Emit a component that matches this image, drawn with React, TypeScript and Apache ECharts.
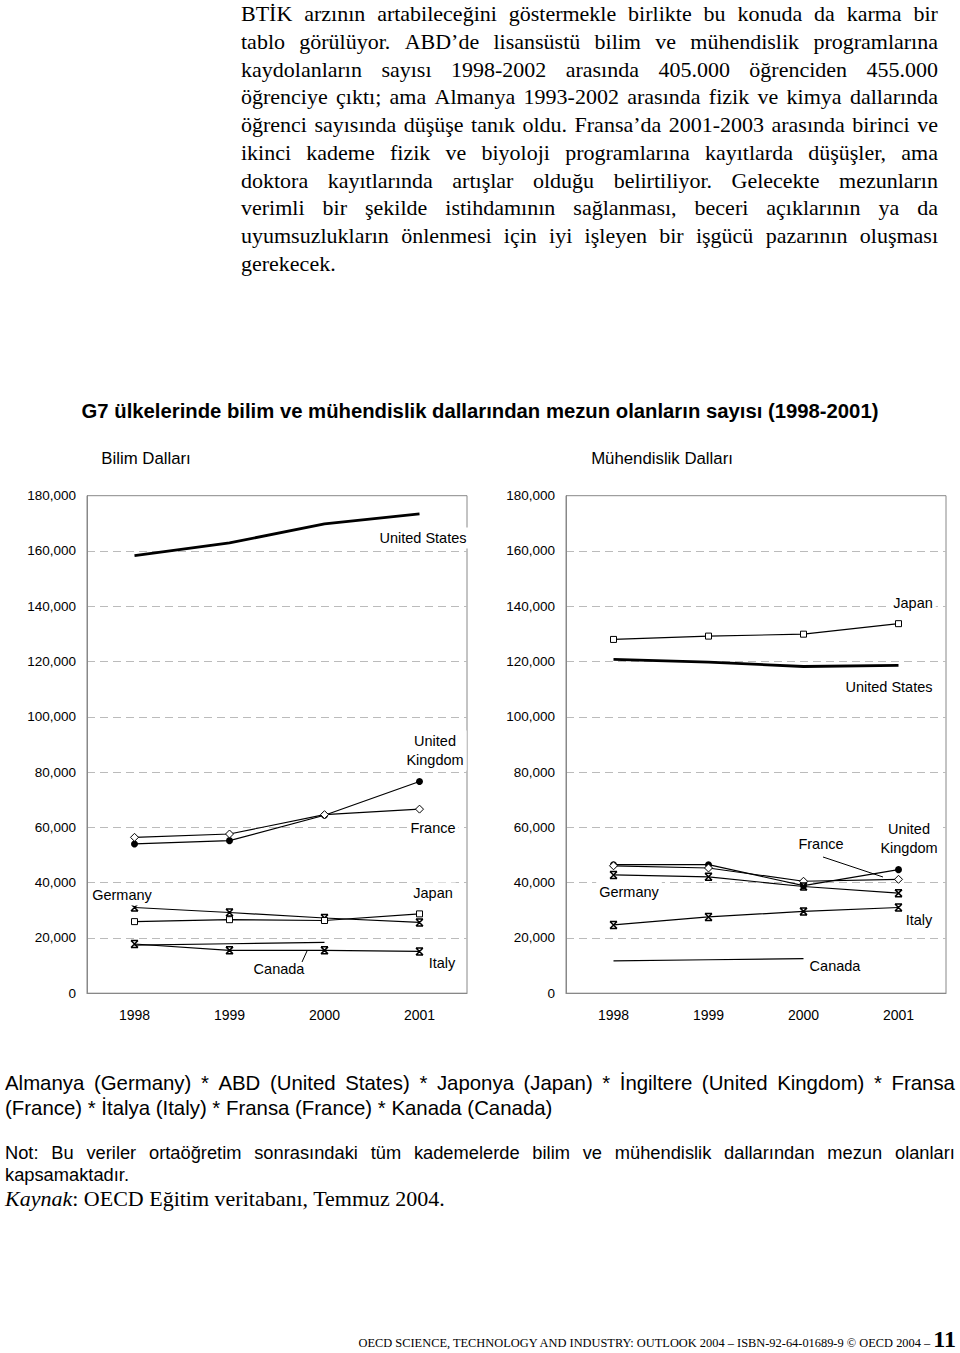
import React, { useEffect, useRef } from 'react';
import * as echarts from 'echarts';

// ---------- data ----------
const years = ['1998', '1999', '2000', '2001'];
const yMin = 0;
const yMax = 180000;
const yStep = 20000;

// Bilim Dalları (science)
const sciUS = [158300, 162900, 169800, 173400];
const sciUK = [54000, 55200, 64400, 76600];
const sciFrance = [56400, 57600, 64600, 66600];
const sciGermany = [31000, 29200, 27200, 25600];
const sciJapan = [25900, 26600, 26300, 28700];
const sciItaly = [17800, 15500, 15500, 15100];
const sciCanada = [17400, 17900, 18400, null];

// Mühendislik Dalları (engineering)
const engJapan = [128000, 129200, 129900, 133700];
const engUS = [120800, 119800, 118200, 118600];
const engUK = [46500, 46500, 38900, 44700];
const engFrance = [46100, 45300, 40500, 41200];
const engGermany = [42800, 42100, 38600, 36200];
const engItaly = [24700, 27600, 29600, 31000];
const engCanada = [11700, 12100, 12500, null];

const chartTitle = 'G7 ülkelerinde bilim ve mühendislik dallarından mezun olanların sayısı (1998-2001)';
const panelTitles = ['Bilim Dalları', 'Mühendislik Dalları'];

const paragraphLines = [
  'BTİK arzının artabileceğini göstermekle birlikte bu konuda da karma bir',
  'tablo görülüyor. ABD’de lisansüstü bilim ve mühendislik programlarına',
  'kaydolanların sayısı 1998-2002 arasında 405.000 öğrenciden 455.000',
  'öğrenciye çıktı; ama Almanya 1993-2002 arasında fizik ve kimya dallarında',
  'öğrenci sayısında düşüşe tanık oldu. Fransa’da 2001-2003 arasında birinci ve',
  'ikinci kademe fizik ve biyoloji programlarına kayıtlarda düşüşler, ama',
  'doktora kayıtlarında artışlar olduğu belirtiliyor. Gelecekte mezunların',
  'verimli bir şekilde istihdamının sağlanması, beceri açıklarının ya da',
  'uyumsuzlukların önlenmesi için iyi işleyen bir işgücü pazarının oluşması',
  'gerekecek.',
];

const legendLines = [
  'Almanya (Germany) * ABD (United States) * Japonya (Japan) * İngiltere (United Kingdom) * Fransa',
  '(France) * İtalya (Italy) * Fransa (France) * Kanada (Canada)',
];

const noteLines = [
  'Not: Bu veriler ortaöğretim sonrasındaki tüm kademelerde bilim ve mühendislik dallarından mezun olanları',
  'kapsamaktadır.',
];

const footerText = 'OECD SCIENCE, TECHNOLOGY AND INDUSTRY: OUTLOOK 2004 – ISBN-92-64-01689-9 © OECD 2004 – ';
const pageNumber = '11';

// ---------- styling ----------
const SANS = "'Liberation Sans', Arial, sans-serif";
const SERIF = "'Liberation Serif', 'Times New Roman', serif";
const ASTERISK = 'path://M0,0L10,0M0,10L10,10M0,0L10,10M10,0L0,10';

type Kind = 'us' | 'uk' | 'fr' | 'jp' | 'star' | 'ca';

function lineSeries(name: string, data: (number | null)[], idx: number, kind: Kind) {
  const base: any = {
    type: 'line',
    name,
    data,
    xAxisIndex: idx,
    yAxisIndex: idx,
    z: 3,
    lineStyle: { color: '#000', width: 1.2 },
    silent: true,
  };
  if (kind === 'us') {
    base.symbol = 'none';
    base.lineStyle = { color: '#000', width: 2.8 };
  } else if (kind === 'ca') {
    base.symbol = 'none';
  } else if (kind === 'uk') {
    base.symbol = 'circle';
    base.symbolSize = 7;
    base.itemStyle = { color: '#000', borderColor: '#000', borderWidth: 0 };
  } else if (kind === 'fr') {
    base.symbol = 'diamond';
    base.symbolSize = 8;
    base.itemStyle = { color: '#fff', borderColor: '#000', borderWidth: 1 };
  } else if (kind === 'jp') {
    base.symbol = 'rect';
    base.symbolSize = 6;
    base.itemStyle = { color: '#fff', borderColor: '#000', borderWidth: 1 };
  } else if (kind === 'star') {
    base.symbol = ASTERISK;
    base.symbolSize = 7;
    base.itemStyle = { color: 'rgba(0,0,0,0)', borderColor: '#000', borderWidth: 1.5 };
  }
  return base;
}

function label(text: string, x: number, y: number, bg = true, size = 14.5) {
  return {
    type: 'text',
    z: 100,
    x,
    y,
    style: {
      text,
      fill: '#000',
      font: `${size}px ${SANS}`,
      textAlign: 'center',
      textVerticalAlign: 'middle',
      align: 'center',
      verticalAlign: 'middle',
      lineHeight: 19,
      backgroundColor: bg ? '#fff' : undefined,
      padding: [1, 3],
    },
  };
}

function leader(x1: number, y1: number, x2: number, y2: number) {
  return {
    type: 'line',
    z: 100,
    shape: { x1, y1, x2, y2 },
    style: { stroke: '#000', lineWidth: 1 },
  };
}

function xAxisCfg(gridIndex: number) {
  return {
    type: 'category',
    gridIndex,
    data: years,
    boundaryGap: true,
    axisLine: { show: true, lineStyle: { color: '#888', width: 1 } },
    axisTick: { show: false },
    axisLabel: { fontSize: 14, color: '#000', margin: 15, fontFamily: SANS },
    splitLine: { show: false },
  };
}

function yAxisCfg(gridIndex: number) {
  return {
    type: 'value',
    gridIndex,
    min: yMin,
    max: yMax,
    interval: yStep,
    axisLine: { show: true, lineStyle: { color: '#888', width: 1 } },
    axisTick: { show: false },
    axisLabel: {
      fontSize: 13.5,
      color: '#000',
      margin: 11,
      fontFamily: SANS,
      formatter: (v: number) => v.toLocaleString('en-US'),
    },
    splitLine: {
      show: true,
      showMinLine: false,
      showMaxLine: false,
      lineStyle: { color: '#bbb', width: 1, type: [8, 5] },
    },
  };
}

function JLine({ text, justify, style }: { text: string; justify: boolean; style: any }) {
  const words = text.split(' ');
  return (
    <div
      style={{
        position: 'absolute',
        display: 'flex',
        justifyContent: justify ? 'space-between' : 'flex-start',
        whiteSpace: 'pre',
        ...style,
      }}
    >
      {justify ? words.map((w, i) => <span key={i}>{w}</span>) : <span>{text}</span>}
    </div>
  );
}

export default function App() {
  const ref = useRef<HTMLDivElement>(null);

  useEffect(() => {
    if (!ref.current) return;
    const chart = echarts.init(ref.current, undefined, { renderer: 'svg' });
    const gridTop = 495.7;
    const gridBottom = 1353 - 993.2;
    chart.setOption({
      animation: false,
      textStyle: { fontFamily: SANS },
      grid: [
        { left: 87, right: 960 - 467, top: gridTop, bottom: gridBottom, show: true, borderColor: '#888', borderWidth: 1, backgroundColor: 'transparent' },
        { left: 566, right: 960 - 946, top: gridTop, bottom: gridBottom, show: true, borderColor: '#888', borderWidth: 1, backgroundColor: 'transparent' },
      ],
      xAxis: [xAxisCfg(0), xAxisCfg(1)],
      yAxis: [yAxisCfg(0), yAxisCfg(1)],
      series: [
        lineSeries('United States', sciUS, 0, 'us'),
        lineSeries('United Kingdom', sciUK, 0, 'uk'),
        lineSeries('France', sciFrance, 0, 'fr'),
        lineSeries('Germany', sciGermany, 0, 'star'),
        lineSeries('Japan', sciJapan, 0, 'jp'),
        lineSeries('Italy', sciItaly, 0, 'star'),
        lineSeries('Canada', sciCanada, 0, 'ca'),
        lineSeries('Japan', engJapan, 1, 'jp'),
        lineSeries('United States', engUS, 1, 'us'),
        lineSeries('United Kingdom', engUK, 1, 'uk'),
        lineSeries('France', engFrance, 1, 'fr'),
        lineSeries('Germany', engGermany, 1, 'star'),
        lineSeries('Italy', engItaly, 1, 'star'),
        lineSeries('Canada', engCanada, 1, 'ca'),
      ],
      graphic: [
        {
          type: 'text',
          z: 100,
          x: 480,
          y: 411,
          style: {
            text: chartTitle,
            fill: '#000',
            font: `bold 20.3px ${SANS}`,
            textAlign: 'center',
            textVerticalAlign: 'middle',
            align: 'center',
            verticalAlign: 'middle',
          },
        },
        label(panelTitles[0], 146, 458, false, 16.8),
        label(panelTitles[1], 662, 458, false, 16.8),
        // left panel
        label('United States', 423, 538),
        label('United\nKingdom', 435, 750.5),
        label('France', 433, 828),
        label('Germany', 122, 895),
        label('Japan', 433, 893),
        label('Canada', 279, 969),
        label('Italy', 442, 963),
        leader(302, 962, 307, 951),
        // right panel
        label('Japan', 913, 603),
        label('United States', 889, 687),
        label('United\nKingdom', 909, 838),
        label('France', 821, 844),
        label('Germany', 629, 892),
        label('Italy', 919, 920),
        label('Canada', 835, 966),
        leader(823, 857, 883, 877),
      ],
    });
    return () => chart.dispose();
  }, []);

  const paraLH = 27.75;

  return (
    <div
      style={{
        position: 'absolute',
        left: 0,
        top: 0,
        width: 960,
        height: 1353,
        overflow: 'hidden',
        background: '#fff',
        color: '#000',
      }}
    >
      <div ref={ref} style={{ position: 'absolute', left: 0, top: 0, width: 960, height: 1353 }} />

      {paragraphLines.map((t, i) => (
        <JLine
          key={'p' + i}
          text={t}
          justify={i < paragraphLines.length - 1}
          style={{
            left: 241,
            top: i * paraLH,
            width: 697,
            height: paraLH,
            lineHeight: paraLH + 'px',
            fontFamily: SERIF,
            fontSize: 22,
          }}
        />
      ))}

      {legendLines.map((t, i) => (
        <JLine
          key={'l' + i}
          text={t}
          justify={i < legendLines.length - 1}
          style={{
            left: 5,
            top: 1070.5 + i * 25,
            width: 950,
            height: 25,
            lineHeight: '25px',
            fontFamily: SANS,
            fontSize: 20.4,
          }}
        />
      ))}

      {noteLines.map((t, i) => (
        <JLine
          key={'n' + i}
          text={t}
          justify={i < noteLines.length - 1}
          style={{
            left: 5,
            top: 1142 + i * 22,
            width: 950,
            height: 22,
            lineHeight: '22px',
            fontFamily: SANS,
            fontSize: 18.3,
          }}
        />
      ))}

      <div
        style={{
          position: 'absolute',
          left: 5,
          top: 1186,
          height: 26,
          lineHeight: '26px',
          fontFamily: SERIF,
          fontSize: 22,
          whiteSpace: 'pre',
        }}
      >
        <i>Kaynak</i>: OECD Eğitim veritabanı, Temmuz 2004.
      </div>

      <div
        style={{
          position: 'absolute',
          right: 4,
          top: 1326,
          height: 26,
          lineHeight: '26px',
          fontFamily: SERIF,
          fontSize: 12.4,
          whiteSpace: 'pre',
        }}
      >
        {footerText}
        <b style={{ fontSize: 24 }}>{pageNumber}</b>
      </div>
    </div>
  );
}
